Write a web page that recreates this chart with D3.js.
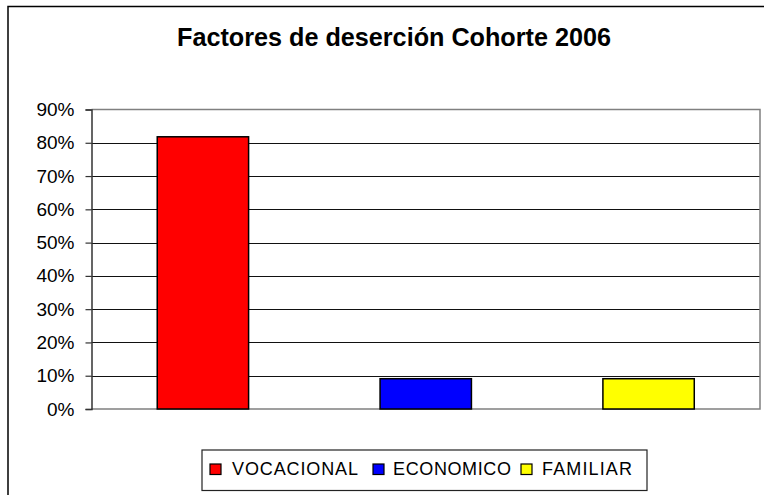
<!DOCTYPE html>
<html><head><meta charset="utf-8">
<script src="https://cdn.jsdelivr.net/npm/d3@7"></script>
<style>html,body{margin:0;padding:0;background:#fff;overflow:hidden;}svg{display:block;font-family:"Liberation Sans",Arial,sans-serif;}</style>
</head><body>
<svg id="c" width="764" height="495"></svg>
<script>
const title = "Factores de deserción Cohorte 2006";
const categories = ["VOCACIONAL", "ECONOMICO", "FAMILIAR"];
const values = [0.818, 0.091, 0.091];
const colors = ["#ff0000", "#0000ff", "#ffff00"];
const yTicks = [0, 0.1, 0.2, 0.3, 0.4, 0.5, 0.6, 0.7, 0.8, 0.9];

const svg = d3.select("#c");
// outer chart border
svg.append("rect").attr("x", 8).attr("y", 6.5).attr("width", 770).attr("height", 500)
  .attr("fill", "#fff").attr("stroke", "#000").attr("stroke-width", 1.5);

svg.append("text").attr("x", 394).attr("y", 46).attr("text-anchor", "middle")
  .attr("font-size", 25).attr("font-weight", "bold")
  .attr("textLength", 434).attr("lengthAdjust", "spacingAndGlyphs").text(title);

const L = 91.5, R = 760, T = 109.5, B = 409;
const x = d3.scaleBand().domain(categories).range([L, R]).paddingInner(0.59).paddingOuter(0.295);
const y = d3.scaleLinear().domain([0, 0.9]).range([B, T]);

// gridlines
svg.append("g").selectAll("line").data(yTicks.filter(d => d > 0 && d < 0.9)).join("line")
  .attr("x1", L).attr("x2", R).attr("y1", d => Math.round(y(d)) + 0.5).attr("y2", d => Math.round(y(d)) + 0.5)
  .attr("stroke", "#111").attr("stroke-width", 1);

// plot border (top/right/bottom gray)
svg.append("path").attr("d", `M${L},${T} H${R} V${B} H${L}`).attr("fill", "none")
  .attr("stroke", "#808080").attr("stroke-width", 1.5);

// bars
svg.append("g").selectAll("rect").data(categories).join("rect")
  .attr("x", d => x(d)).attr("width", x.bandwidth())
  .attr("y", (d, i) => y(values[i])).attr("height", (d, i) => y(0) - y(values[i]))
  .attr("fill", (d, i) => colors[i]).attr("stroke", "#000").attr("stroke-width", 1.5);

// y axis
const yAxis = d3.axisLeft(y).tickValues(yTicks).tickFormat(d3.format(".0%")).tickSize(6).tickPadding(11);
const gA = svg.append("g").attr("transform", `translate(${L},0)`).call(yAxis);
gA.select(".domain").attr("stroke", "#333").attr("stroke-width", 1.5);
gA.selectAll(".tick line").attr("stroke", "#333").attr("stroke-width", 1.2);
gA.selectAll(".tick text").attr("font-size", 19).attr("fill", "#000")
  .attr("font-family", "'Liberation Sans', Arial, sans-serif");

// legend
const lg = svg.append("g");
lg.append("rect").attr("x", 202).attr("y", 450).attr("width", 445).attr("height", 40.5)
  .attr("fill", "#fff").attr("stroke", "#222").attr("stroke-width", 1.2);
const legX = [210, 373, 521];
const legTextX = [232, 393, 542];
const legTextW = [126, 118, 90];
categories.forEach((c, i) => {
  lg.append("rect").attr("x", legX[i]).attr("y", 464).attr("width", 11).attr("height", 10.5)
    .attr("fill", colors[i]).attr("stroke", "#000").attr("stroke-width", 1.2);
  lg.append("text").attr("x", legTextX[i]).attr("y", 474.5).attr("font-size", 18)
    .attr("textLength", legTextW[i]).attr("lengthAdjust", "spacing").text(c);
});
</script>
</body></html>
